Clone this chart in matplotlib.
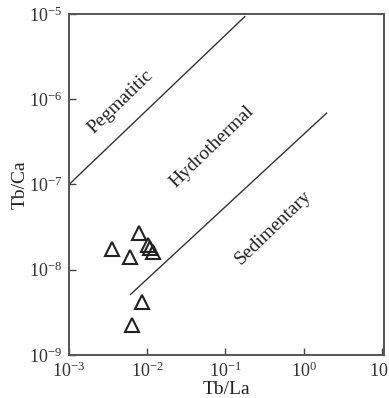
import matplotlib
matplotlib.use("Agg")
import matplotlib.pyplot as plt

plt.rcParams['font.family'] = ['Liberation Serif', 'DejaVu Serif']
plt.rcParams['mathtext.fontset'] = 'custom'
plt.rcParams['mathtext.rm'] = 'Liberation Serif'

# samples (Tb/La, Tb/Ca)
tb_la = [0.00791, 0.00357, 0.00601, 0.0103, 0.0110, 0.0119, 0.00847, 0.00632]
tb_ca = [2.67e-8, 1.73e-8, 1.40e-8, 1.95e-8, 1.78e-8, 1.60e-8, 4.22e-9, 2.25e-9]

# field boundaries
peg_x = [1e-3, 0.177]
peg_y = [1e-7, 9.3e-6]
sed_x = [0.00614, 1.97]
sed_y = [5.15e-9, 6.87e-7]

labels = ["Pegmatitic", "Hydrothermal", "Sedimentary"]
label_x = [0.00461, 0.067, 0.415]
label_y = [9.3e-7, 2.76e-7, 3.1e-8]

fig = plt.figure(figsize=(3.89, 3.98), dpi=100)
ax = fig.add_axes([0.1774, 0.108, 0.81, 0.857])

ax.plot(peg_x, peg_y, color='#333333', lw=1.0)
ax.plot(sed_x, sed_y, color='#333333', lw=1.0)
ax.plot(tb_la, tb_ca, ls='none', marker='^', ms=9.5, mfc='none',
        mec='#222222', mew=1.5)

for t, x, y in zip(labels, label_x, label_y):
    ax.text(x, y, t, rotation=44, rotation_mode='anchor', ha='center',
            va='center', fontsize=14, color='#222222')

ax.set_xscale('log')
ax.set_yscale('log')
ax.set_xlim(1e-3, 10**1.03)
ax.set_ylim(1e-9, 1e-5)
ax.set_xticks([1e-3, 1e-2, 1e-1, 1e0, 1e1])
ax.set_yticks([1e-9, 1e-8, 1e-7, 1e-6, 1e-5])
ax.minorticks_off()
ax.tick_params(direction='in', length=5, width=1, colors='#444444',
               labelcolor='#333333', labelsize=13, pad=5)
for s in ax.spines.values():
    s.set_color('#555555')
    s.set_linewidth(1.4)

ax.set_xlabel("Tb/La", fontsize=14, color='#222222', labelpad=0)
ax.set_ylabel("Tb/Ca", fontsize=14, color='#222222', labelpad=0)

fig.savefig("out.png", dpi=100)
